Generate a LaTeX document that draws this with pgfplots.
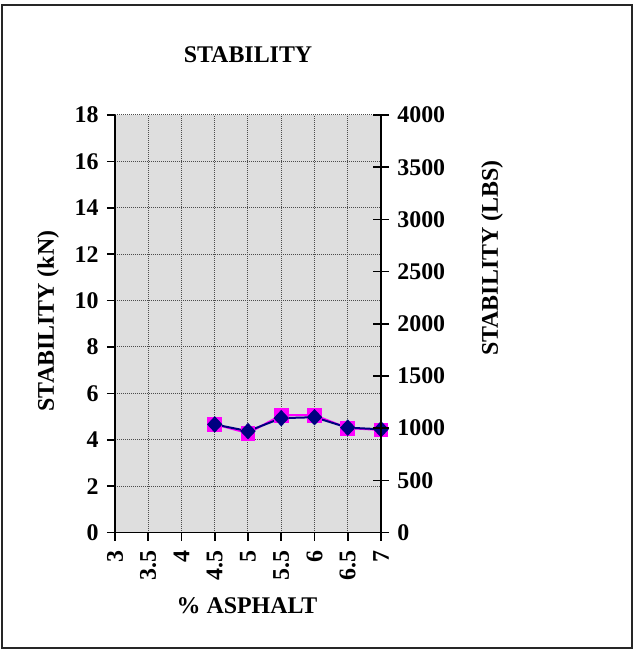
\documentclass[border=0pt]{standalone}
\usepackage{pgfplots}
\pgfplotsset{compat=1.18}
\usepackage{fontspec}
\setmainfont{Liberation Serif}

\definecolor{plotbg}{RGB}{222,222,222}
\definecolor{kncol}{RGB}{255,0,255}
\definecolor{lbscol}{RGB}{0,0,128}

\begin{document}
\fontsize{12}{14}\selectfont\bfseries
\begin{tikzpicture}
	% page size and outer frame
	\path (-57.5bp,-58.75bp) rectangle (259bp,266.25bp);
	\draw[line width=0.8bp, black!85] (-56.5bp,-57.75bp) rectangle (258.5bp,263.75bp);

	\begin{axis}[
		at={(0,0)}, anchor=south west,
		scale only axis,
		width=133bp, height=208.75bp,
		xmin=3, xmax=7,
		ymin=0, ymax=18,
		xtick={3,3.5,...,7},
		ytick={0,2,...,18},
		axis x line*=bottom,
		axis y line*=left,
		axis line style={black, line width=0.8bp},
		tick align=outside,
		major tick length=4bp,
		tick style={black, line width=0.8bp},
		xmajorgrids=true, ymajorgrids=true,
		grid style={dash pattern=on 0.5bp off 0.5bp, black!70, line width=0.5bp},
		axis background/.style={fill=plotbg},
		/pgf/number format/assume math mode=true,
		/pgf/number format/fixed,
		ticklabel style={font=\fontsize{12}{14}\selectfont\bfseries},
		xticklabel style={rotate=90, anchor=east, xshift=-1bp},
	]
		\addplot[color=kncol, line width=1bp, mark=square*, mark size=3.2bp,
			mark options={fill=kncol, draw=kncol}]
		coordinates {
			(4.5,4.67)(5,4.28)(5.5,5.06)(6,5.06)(6.5,4.50)(7,4.42)
		};
		\addplot[color=lbscol, line width=1bp, mark=diamond*, mark size=3.4bp,
			mark options={fill=lbscol, draw=lbscol, xscale=1.25}]
		coordinates {
			(4.5,4.66)(5,4.37)(5.5,4.93)(6,4.97)(6.5,4.52)(7,4.45)
		};
	\end{axis}

	\begin{axis}[
		at={(0,0)}, anchor=south west,
		scale only axis,
		width=133bp, height=208.75bp,
		xmin=3, xmax=7,
		ymin=0, ymax=4000,
		ytick={0,500,...,4000},
		axis y line*=right,
		axis x line=none,
		axis line style={black, line width=0.8bp},
		tick align=center,
		major tick length=8bp,
		tick style={black, line width=0.8bp},
		/pgf/number format/assume math mode=true,
		/pgf/number format/1000 sep={},
		ticklabel style={font=\fontsize{12}{14}\selectfont\bfseries},
	]
	\end{axis}

	\node at (66.5bp,238.75bp) {STABILITY};
	\node at (66bp,-36.75bp) {\% ASPHALT};
	\node[rotate=90] at (-33.5bp,105.75bp) {STABILITY (kN)};
	\node[rotate=90] at (188.5bp,137.25bp) {STABILITY (LBS)};
\end{tikzpicture}
\end{document}
